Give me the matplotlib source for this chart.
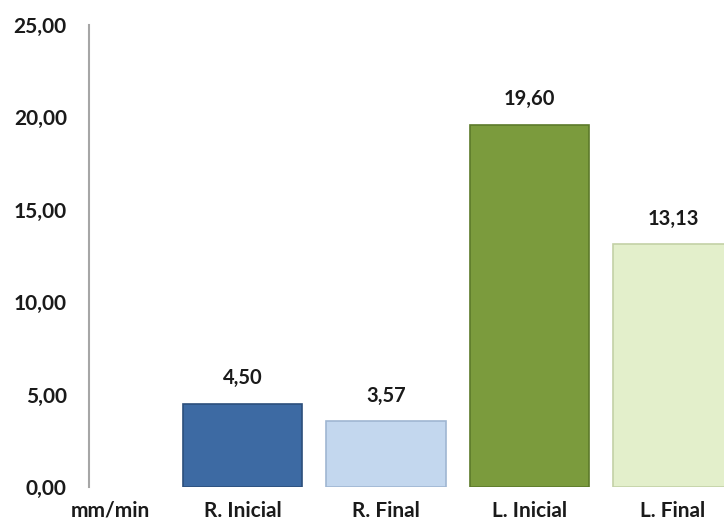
import matplotlib.pyplot as plt
from matplotlib.ticker import FuncFormatter

categories = ["R. Inicial", "R. Final", "L. Inicial", "L. Final"]
values = [4.50, 3.57, 19.60, 13.13]
colors = ["#3d6aa3", "#c3d7ee", "#7b9b3d", "#e3efcb"]
edges = ["#2c4f7c", "#9fb6d2", "#5c7a2a", "#c3d1a6"]

plt.rcParams["font.family"] = ["Lato", "DejaVu Sans"]
plt.rcParams["font.weight"] = "bold"

fig = plt.figure(figsize=(7.24, 5.23), dpi=100)
ax = fig.add_axes([0.1229, 0.0688, 0.8771, 0.8834])

x = range(len(categories))
bars = ax.bar(x, values, width=0.83, color=colors, edgecolor=edges, linewidth=1.2)

# value labels above each bar, comma as decimal separator
for xi, v in zip(x, values):
    ax.annotate(f"{v:.2f}".replace(".", ","), (xi, v), xytext=(0, 14),
                textcoords="offset points", ha="center", va="baseline",
                fontsize=14.5, fontweight="bold", color="#1a1a1a")

ax.set_ylim(0, 25)
ax.set_xlim(-1.07, 3.355)
ax.set_yticks([0, 5, 10, 15, 20, 25])
ax.yaxis.set_major_formatter(FuncFormatter(lambda v, p: f"{v:.2f}".replace(".", ",")))
ax.set_xticks(list(x))
ax.set_xticklabels(categories)
ax.tick_params(axis="y", length=0, pad=16, labelsize=15, labelcolor="#1a1a1a")
ax.tick_params(axis="x", length=0, pad=10, labelsize=15, labelcolor="#1a1a1a")

for side in ["top", "right", "bottom"]:
    ax.spines[side].set_visible(False)
ax.spines["left"].set_color("#a6a6a6")
ax.spines["left"].set_linewidth(1.5)

ax.text(-0.92, -0.03, "mm/min", transform=ax.get_xaxis_transform(),
        ha="center", va="top", fontsize=15, fontweight="bold", color="#1a1a1a")

fig.savefig("out.png", dpi=100)
